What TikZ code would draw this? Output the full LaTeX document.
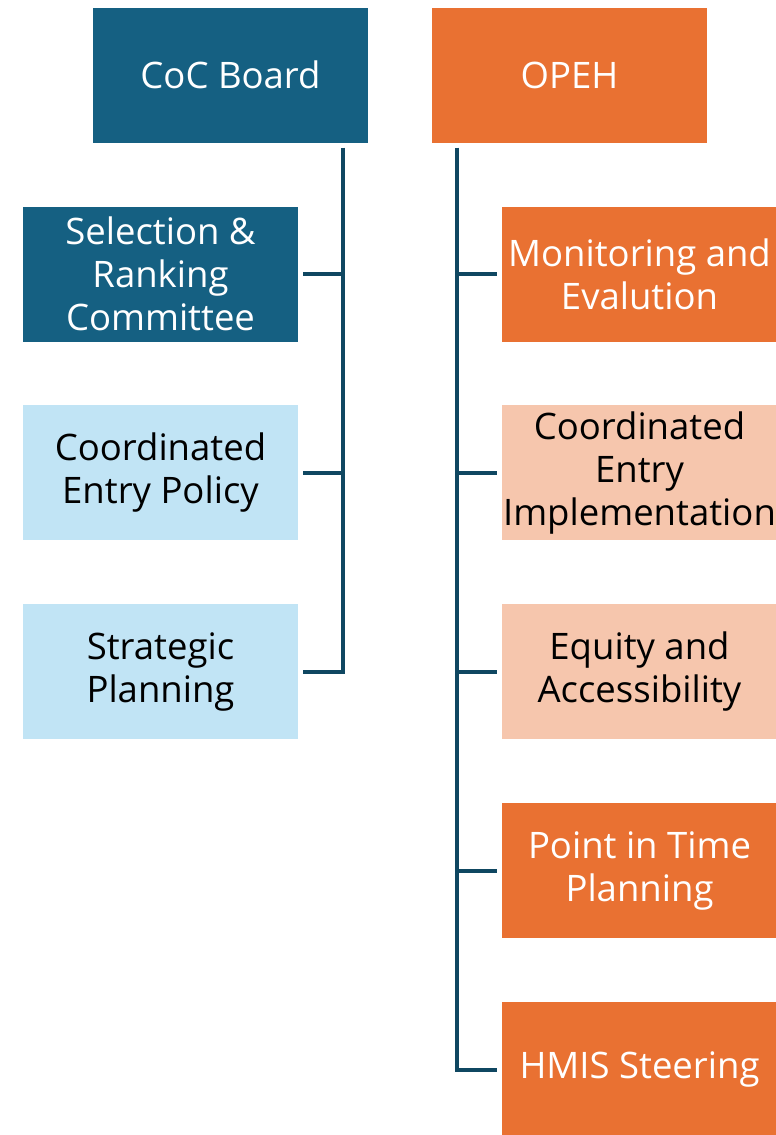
\documentclass[tikz,border=0pt]{standalone}
\usepackage{fontspec}
\setmainfont{Open Sans}
\usepackage{tikz}
\usetikzlibrary{positioning}
\definecolor{board}{HTML}{156082}
\definecolor{boardlight}{HTML}{C1E4F5}
\definecolor{opeh}{HTML}{E97132}
\definecolor{opehlight}{HTML}{F6C6AD}
\definecolor{wire}{HTML}{0F4761}

\begin{document}
\begin{tikzpicture}[
  x=1pt, y=-1pt,
  node distance=63.5pt and 0pt,
  box/.style={minimum width=275pt, minimum height=135pt, align=center, inner sep=0pt,
    font=\fontsize{36.5}{43}\selectfont},
  dark/.style={box, fill=board, text=white},
  light/.style={box, fill=boardlight, text=black},
  hot/.style={box, fill=opeh, text=white},
  pale/.style={box, fill=opehlight, text=black},
  link/.style={draw=wire, line width=4pt}
]
\useasboundingbox (0,0) rectangle (776,1135);
% committee heads
\node[dark] (coc) at (230.5,75) {CoC Board};
\node[hot] (opeh) at (569.5,75) {OPEH};
% CoC Board committees
\node[dark] (rank) at (160.5,274) {Selection \&\\Ranking\\Committee};
\node[light, below=of rank] (cepol) {Coordinated\\Entry Policy};
\node[light, below=of cepol] (strat) {Strategic\\Planning};
% OPEH committees
\node[hot] (mon) at (639.5,274) {Monitoring and\\Evalution};
\node[pale, below=of mon] (ceimp) {Coordinated\\Entry\\Implementation};
\node[pale, below=of ceimp] (equity) {Equity and\\Accessibility};
\node[hot, below=of equity] (pit) {Point in Time\\Planning};
\node[hot, below=of pit] (hmis) {HMIS Steering};
% trunks
\coordinate (ltop) at ([xshift=-25pt,yshift=-5pt]coc.south east);
\coordinate (rtop) at ([xshift=25pt,yshift=-5pt]opeh.south west);
\draw[link] (ltop) |- ([xshift=5pt]strat.east);
\draw[link] (rtop) |- ([xshift=-5pt]hmis.west);
% ticks
\foreach \n in {rank,cepol}
  \draw[link] ([xshift=5pt]\n.east) -- (ltop |- \n.east);
\foreach \n in {mon,ceimp,equity,pit}
  \draw[link] ([xshift=-5pt]\n.west) -- (rtop |- \n.west);
\end{tikzpicture}
\end{document}
